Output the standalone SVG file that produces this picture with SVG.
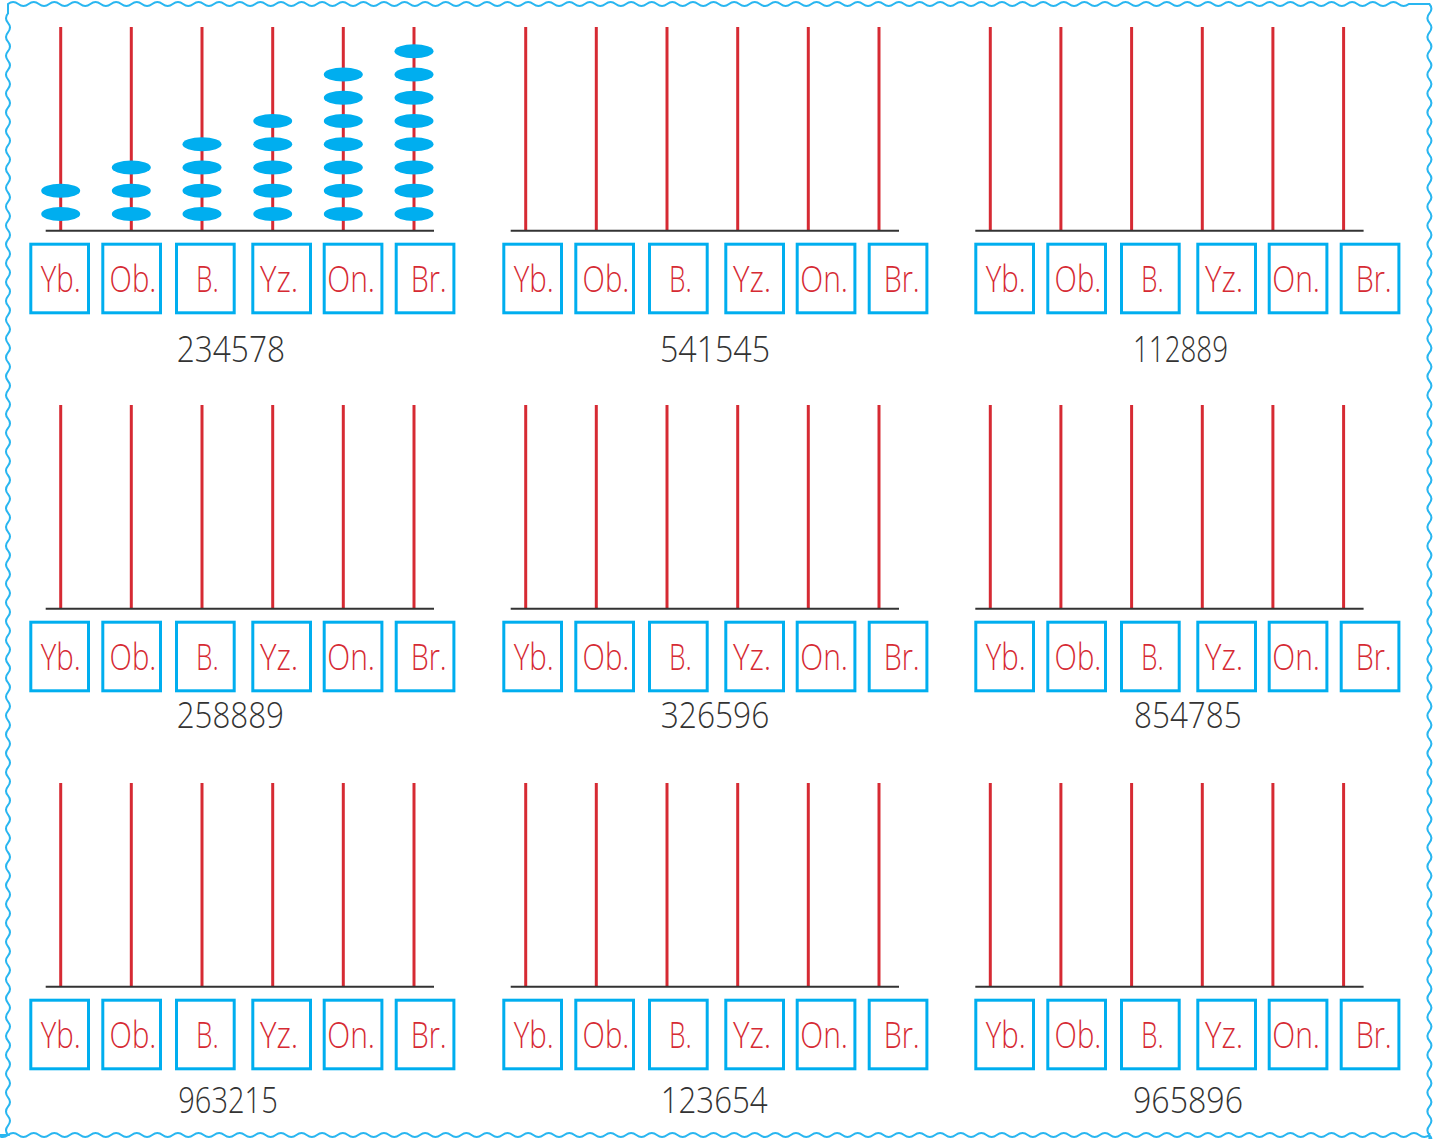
<svg xmlns="http://www.w3.org/2000/svg" width="1448" height="1139" viewBox="0 0 1448 1139">
<defs>
<style>
.rod{stroke:#d62a33;stroke-width:3}
.base{stroke:#333;stroke-width:2}
.box{fill:none;stroke:#00aeef;stroke-width:3}
.bead{fill:#00aeef}
.lbl{font-family:"Open Sans","Liberation Sans",sans-serif;font-weight:300;font-size:36px;fill:#d62a33}
.num{font-family:"Open Sans","Liberation Sans",sans-serif;font-weight:300;font-size:36px;fill:#333}
.border{fill:none;stroke:#29b6f0;stroke-width:2}
</style>
<g id="rods">
<line class="rod" x1="60.7" y1="27" x2="60.7" y2="231"/>
<line class="rod" x1="131.3" y1="27" x2="131.3" y2="231"/>
<line class="rod" x1="202" y1="27" x2="202" y2="231"/>
<line class="rod" x1="272.7" y1="27" x2="272.7" y2="231"/>
<line class="rod" x1="343.3" y1="27" x2="343.3" y2="231"/>
<line class="rod" x1="414" y1="27" x2="414" y2="231"/>
<line class="base" x1="45.7" y1="230.7" x2="434" y2="230.7"/>
</g>
</defs>
<path class="border" d="M8 4q5.15 -4 10.3 0t10.3 0t10.3 0t10.3 0t10.3 0t10.3 0t10.3 0t10.3 0t10.3 0t10.3 0t10.3 0t10.3 0t10.3 0t10.3 0t10.3 0t10.3 0t10.3 0t10.3 0t10.3 0t10.3 0t10.3 0t10.3 0t10.3 0t10.3 0t10.3 0t10.3 0t10.3 0t10.3 0t10.3 0t10.3 0t10.3 0t10.3 0t10.3 0t10.3 0t10.3 0t10.3 0t10.3 0t10.3 0t10.3 0t10.3 0t10.3 0t10.3 0t10.3 0t10.3 0t10.3 0t10.3 0t10.3 0t10.3 0t10.3 0t10.3 0t10.3 0t10.3 0t10.3 0t10.3 0t10.3 0t10.3 0t10.3 0t10.3 0t10.3 0t10.3 0t10.3 0t10.3 0t10.3 0t10.3 0t10.3 0t10.3 0t10.3 0t10.3 0t10.3 0t10.3 0t10.3 0t10.3 0t10.3 0t10.3 0t10.3 0t10.3 0t10.3 0t10.3 0t10.3 0t10.3 0t10.3 0t10.3 0t10.3 0t10.3 0t10.3 0t10.3 0t10.3 0t10.3 0t10.3 0t10.3 0t10.3 0t10.3 0t10.3 0t10.3 0t10.3 0t10.3 0t10.3 0t10.3 0t10.3 0t10.3 0t10.3 0t10.3 0t10.3 0t10.3 0t10.3 0t10.3 0t10.3 0t10.3 0t10.3 0t10.3 0t10.3 0t10.3 0t10.3 0t10.3 0t10.3 0t10.3 0t10.3 0t10.3 0t10.3 0t10.3 0t10.3 0t10.3 0t10.3 0t10.3 0t10.3 0t10.3 0t10.3 0t10.3 0t10.3 0t10.3 0t10.3 0t10.3 0t10.3 0t10.3 0t10.3 0t10.3 0
L1429.4 4q4 4.7125 0 9.425t0 9.425t0 9.425t0 9.425t0 9.425t0 9.425t0 9.425t0 9.425t0 9.425t0 9.425t0 9.425t0 9.425t0 9.425t0 9.425t0 9.425t0 9.425t0 9.425t0 9.425t0 9.425t0 9.425t0 9.425t0 9.425t0 9.425t0 9.425t0 9.425t0 9.425t0 9.425t0 9.425t0 9.425t0 9.425t0 9.425t0 9.425t0 9.425t0 9.425t0 9.425t0 9.425t0 9.425t0 9.425t0 9.425t0 9.425t0 9.425t0 9.425t0 9.425t0 9.425t0 9.425t0 9.425t0 9.425t0 9.425t0 9.425t0 9.425t0 9.425t0 9.425t0 9.425t0 9.425t0 9.425t0 9.425t0 9.425t0 9.425t0 9.425t0 9.425t0 9.425t0 9.425t0 9.425t0 9.425t0 9.425t0 9.425t0 9.425t0 9.425t0 9.425t0 9.425t0 9.425t0 9.425t0 9.425t0 9.425t0 9.425t0 9.425t0 9.425t0 9.425t0 9.425t0 9.425t0 9.425t0 9.425t0 9.425t0 9.425t0 9.425t0 9.425t0 9.425t0 9.425t0 9.425t0 9.425t0 9.425t0 9.425t0 9.425t0 9.425t0 9.425t0 9.425t0 9.425t0 9.425t0 9.425t0 9.425t0 9.425t0 9.425t0 9.425t0 9.425t0 9.425t0 9.425t0 9.425t0 9.425t0 9.425t0 9.425t0 9.425t0 9.425t0 9.425t0 9.425t0 9.425t0 9.425t0 9.425t0 9.425t0 9.425t0 9.425t0 9.425t0 9.425t0 9.425t0 9.425t0 9.425
L1429.4 1135q-5.15 4 -10.3 0t-10.3 0t-10.3 0t-10.3 0t-10.3 0t-10.3 0t-10.3 0t-10.3 0t-10.3 0t-10.3 0t-10.3 0t-10.3 0t-10.3 0t-10.3 0t-10.3 0t-10.3 0t-10.3 0t-10.3 0t-10.3 0t-10.3 0t-10.3 0t-10.3 0t-10.3 0t-10.3 0t-10.3 0t-10.3 0t-10.3 0t-10.3 0t-10.3 0t-10.3 0t-10.3 0t-10.3 0t-10.3 0t-10.3 0t-10.3 0t-10.3 0t-10.3 0t-10.3 0t-10.3 0t-10.3 0t-10.3 0t-10.3 0t-10.3 0t-10.3 0t-10.3 0t-10.3 0t-10.3 0t-10.3 0t-10.3 0t-10.3 0t-10.3 0t-10.3 0t-10.3 0t-10.3 0t-10.3 0t-10.3 0t-10.3 0t-10.3 0t-10.3 0t-10.3 0t-10.3 0t-10.3 0t-10.3 0t-10.3 0t-10.3 0t-10.3 0t-10.3 0t-10.3 0t-10.3 0t-10.3 0t-10.3 0t-10.3 0t-10.3 0t-10.3 0t-10.3 0t-10.3 0t-10.3 0t-10.3 0t-10.3 0t-10.3 0t-10.3 0t-10.3 0t-10.3 0t-10.3 0t-10.3 0t-10.3 0t-10.3 0t-10.3 0t-10.3 0t-10.3 0t-10.3 0t-10.3 0t-10.3 0t-10.3 0t-10.3 0t-10.3 0t-10.3 0t-10.3 0t-10.3 0t-10.3 0t-10.3 0t-10.3 0t-10.3 0t-10.3 0t-10.3 0t-10.3 0t-10.3 0t-10.3 0t-10.3 0t-10.3 0t-10.3 0t-10.3 0t-10.3 0t-10.3 0t-10.3 0t-10.3 0t-10.3 0t-10.3 0t-10.3 0t-10.3 0t-10.3 0t-10.3 0t-10.3 0t-10.3 0t-10.3 0t-10.3 0t-10.3 0t-10.3 0t-10.3 0t-10.3 0t-10.3 0t-10.3 0t-10.3 0t-10.3 0t-10.3 0t-10.3 0t-10.3 0t-10.3 0t-10.3 0t-10.3 0t-10.3 0
L8 1135q-4 -4.7125 0 -9.425t0 -9.425t0 -9.425t0 -9.425t0 -9.425t0 -9.425t0 -9.425t0 -9.425t0 -9.425t0 -9.425t0 -9.425t0 -9.425t0 -9.425t0 -9.425t0 -9.425t0 -9.425t0 -9.425t0 -9.425t0 -9.425t0 -9.425t0 -9.425t0 -9.425t0 -9.425t0 -9.425t0 -9.425t0 -9.425t0 -9.425t0 -9.425t0 -9.425t0 -9.425t0 -9.425t0 -9.425t0 -9.425t0 -9.425t0 -9.425t0 -9.425t0 -9.425t0 -9.425t0 -9.425t0 -9.425t0 -9.425t0 -9.425t0 -9.425t0 -9.425t0 -9.425t0 -9.425t0 -9.425t0 -9.425t0 -9.425t0 -9.425t0 -9.425t0 -9.425t0 -9.425t0 -9.425t0 -9.425t0 -9.425t0 -9.425t0 -9.425t0 -9.425t0 -9.425t0 -9.425t0 -9.425t0 -9.425t0 -9.425t0 -9.425t0 -9.425t0 -9.425t0 -9.425t0 -9.425t0 -9.425t0 -9.425t0 -9.425t0 -9.425t0 -9.425t0 -9.425t0 -9.425t0 -9.425t0 -9.425t0 -9.425t0 -9.425t0 -9.425t0 -9.425t0 -9.425t0 -9.425t0 -9.425t0 -9.425t0 -9.425t0 -9.425t0 -9.425t0 -9.425t0 -9.425t0 -9.425t0 -9.425t0 -9.425t0 -9.425t0 -9.425t0 -9.425t0 -9.425t0 -9.425t0 -9.425t0 -9.425t0 -9.425t0 -9.425t0 -9.425t0 -9.425t0 -9.425t0 -9.425t0 -9.425t0 -9.425t0 -9.425t0 -9.425t0 -9.425t0 -9.425t0 -9.425t0 -9.425t0 -9.425t0 -9.425t0 -9.425t0 -9.425Z"/>

<g id="abacus-1" transform="translate(0,0)">
<use href="#rods"/>
<g class="beads">
<ellipse class="bead" cx="60.7" cy="214" rx="19.5" ry="7"/>
<ellipse class="bead" cx="60.7" cy="190.75" rx="19.5" ry="7"/>
<ellipse class="bead" cx="131.3" cy="214" rx="19.5" ry="7"/>
<ellipse class="bead" cx="131.3" cy="190.75" rx="19.5" ry="7"/>
<ellipse class="bead" cx="131.3" cy="167.5" rx="19.5" ry="7"/>
<ellipse class="bead" cx="202" cy="214" rx="19.5" ry="7"/>
<ellipse class="bead" cx="202" cy="190.75" rx="19.5" ry="7"/>
<ellipse class="bead" cx="202" cy="167.5" rx="19.5" ry="7"/>
<ellipse class="bead" cx="202" cy="144.25" rx="19.5" ry="7"/>
<ellipse class="bead" cx="272.7" cy="214" rx="19.5" ry="7"/>
<ellipse class="bead" cx="272.7" cy="190.75" rx="19.5" ry="7"/>
<ellipse class="bead" cx="272.7" cy="167.5" rx="19.5" ry="7"/>
<ellipse class="bead" cx="272.7" cy="144.25" rx="19.5" ry="7"/>
<ellipse class="bead" cx="272.7" cy="121" rx="19.5" ry="7"/>
<ellipse class="bead" cx="343.3" cy="214" rx="19.5" ry="7"/>
<ellipse class="bead" cx="343.3" cy="190.75" rx="19.5" ry="7"/>
<ellipse class="bead" cx="343.3" cy="167.5" rx="19.5" ry="7"/>
<ellipse class="bead" cx="343.3" cy="144.25" rx="19.5" ry="7"/>
<ellipse class="bead" cx="343.3" cy="121" rx="19.5" ry="7"/>
<ellipse class="bead" cx="343.3" cy="97.75" rx="19.5" ry="7"/>
<ellipse class="bead" cx="343.3" cy="74.5" rx="19.5" ry="7"/>
<ellipse class="bead" cx="414" cy="214" rx="19.5" ry="7"/>
<ellipse class="bead" cx="414" cy="190.75" rx="19.5" ry="7"/>
<ellipse class="bead" cx="414" cy="167.5" rx="19.5" ry="7"/>
<ellipse class="bead" cx="414" cy="144.25" rx="19.5" ry="7"/>
<ellipse class="bead" cx="414" cy="121" rx="19.5" ry="7"/>
<ellipse class="bead" cx="414" cy="97.75" rx="19.5" ry="7"/>
<ellipse class="bead" cx="414" cy="74.5" rx="19.5" ry="7"/>
<ellipse class="bead" cx="414" cy="51.25" rx="19.5" ry="7"/>
</g>
<g transform="translate(0,0)">
<rect class="box" x="30.8" y="244.2" width="57.7" height="68.6"/>
<rect class="box" x="102.8" y="244.2" width="57.7" height="68.6"/>
<rect class="box" x="176.5" y="244.2" width="57.7" height="68.6"/>
<rect class="box" x="252.8" y="244.2" width="57.7" height="68.6"/>
<rect class="box" x="324.2" y="244.2" width="57.7" height="68.6"/>
<rect class="box" x="396.2" y="244.2" width="57.7" height="68.6"/>
<text class="lbl" x="40.7" y="291.7" textLength="40" lengthAdjust="spacingAndGlyphs">Yb.</text>
<text class="lbl" x="109.6" y="291.7" textLength="46.7" lengthAdjust="spacingAndGlyphs">Ob.</text>
<text class="lbl" x="196" y="291.7" textLength="22.7" lengthAdjust="spacingAndGlyphs">B.</text>
<text class="lbl" x="260" y="291.7" textLength="38.3" lengthAdjust="spacingAndGlyphs">Yz.</text>
<text class="lbl" x="327.3" y="291.7" textLength="47.7" lengthAdjust="spacingAndGlyphs">On.</text>
<text class="lbl" x="410.7" y="291.7" textLength="36" lengthAdjust="spacingAndGlyphs">Br.</text>
</g>
<text class="num" x="176.7" y="361.7" textLength="108.3" lengthAdjust="spacingAndGlyphs">234578</text>
</g>

<g id="abacus-2" transform="translate(465,0)">
<use href="#rods"/>
<g transform="translate(8,0)">
<rect class="box" x="30.8" y="244.2" width="57.7" height="68.6"/>
<rect class="box" x="102.8" y="244.2" width="57.7" height="68.6"/>
<rect class="box" x="176.5" y="244.2" width="57.7" height="68.6"/>
<rect class="box" x="252.8" y="244.2" width="57.7" height="68.6"/>
<rect class="box" x="324.2" y="244.2" width="57.7" height="68.6"/>
<rect class="box" x="396.2" y="244.2" width="57.7" height="68.6"/>
<text class="lbl" x="40.7" y="291.7" textLength="40" lengthAdjust="spacingAndGlyphs">Yb.</text>
<text class="lbl" x="109.6" y="291.7" textLength="46.7" lengthAdjust="spacingAndGlyphs">Ob.</text>
<text class="lbl" x="196" y="291.7" textLength="22.7" lengthAdjust="spacingAndGlyphs">B.</text>
<text class="lbl" x="260" y="291.7" textLength="38.3" lengthAdjust="spacingAndGlyphs">Yz.</text>
<text class="lbl" x="327.3" y="291.7" textLength="47.7" lengthAdjust="spacingAndGlyphs">On.</text>
<text class="lbl" x="410.7" y="291.7" textLength="36" lengthAdjust="spacingAndGlyphs">Br.</text>
</g>
<text class="num" x="195" y="361.7" textLength="110" lengthAdjust="spacingAndGlyphs">541545</text>
</g>

<g id="abacus-3" transform="translate(929.6,0)">
<use href="#rods"/>
<g transform="translate(15.4,0)">
<rect class="box" x="30.8" y="244.2" width="57.7" height="68.6"/>
<rect class="box" x="102.8" y="244.2" width="57.7" height="68.6"/>
<rect class="box" x="176.5" y="244.2" width="57.7" height="68.6"/>
<rect class="box" x="252.8" y="244.2" width="57.7" height="68.6"/>
<rect class="box" x="324.2" y="244.2" width="57.7" height="68.6"/>
<rect class="box" x="396.2" y="244.2" width="57.7" height="68.6"/>
<text class="lbl" x="40.7" y="291.7" textLength="40" lengthAdjust="spacingAndGlyphs">Yb.</text>
<text class="lbl" x="109.6" y="291.7" textLength="46.7" lengthAdjust="spacingAndGlyphs">Ob.</text>
<text class="lbl" x="196" y="291.7" textLength="22.7" lengthAdjust="spacingAndGlyphs">B.</text>
<text class="lbl" x="260" y="291.7" textLength="38.3" lengthAdjust="spacingAndGlyphs">Yz.</text>
<text class="lbl" x="327.3" y="291.7" textLength="47.7" lengthAdjust="spacingAndGlyphs">On.</text>
<text class="lbl" x="410.7" y="291.7" textLength="36" lengthAdjust="spacingAndGlyphs">Br.</text>
</g>
<text class="num" x="203.4" y="361.7" textLength="95" lengthAdjust="spacingAndGlyphs">112889</text>
</g>

<g id="abacus-4" transform="translate(0,378)">
<use href="#rods"/>
<g transform="translate(0,0)">
<rect class="box" x="30.8" y="244.2" width="57.7" height="68.6"/>
<rect class="box" x="102.8" y="244.2" width="57.7" height="68.6"/>
<rect class="box" x="176.5" y="244.2" width="57.7" height="68.6"/>
<rect class="box" x="252.8" y="244.2" width="57.7" height="68.6"/>
<rect class="box" x="324.2" y="244.2" width="57.7" height="68.6"/>
<rect class="box" x="396.2" y="244.2" width="57.7" height="68.6"/>
<text class="lbl" x="40.7" y="291.7" textLength="40" lengthAdjust="spacingAndGlyphs">Yb.</text>
<text class="lbl" x="109.6" y="291.7" textLength="46.7" lengthAdjust="spacingAndGlyphs">Ob.</text>
<text class="lbl" x="196" y="291.7" textLength="22.7" lengthAdjust="spacingAndGlyphs">B.</text>
<text class="lbl" x="260" y="291.7" textLength="38.3" lengthAdjust="spacingAndGlyphs">Yz.</text>
<text class="lbl" x="327.3" y="291.7" textLength="47.7" lengthAdjust="spacingAndGlyphs">On.</text>
<text class="lbl" x="410.7" y="291.7" textLength="36" lengthAdjust="spacingAndGlyphs">Br.</text>
</g>
<text class="num" x="176.7" y="350.3" textLength="107.3" lengthAdjust="spacingAndGlyphs">258889</text>
</g>

<g id="abacus-5" transform="translate(465,378)">
<use href="#rods"/>
<g transform="translate(8,0)">
<rect class="box" x="30.8" y="244.2" width="57.7" height="68.6"/>
<rect class="box" x="102.8" y="244.2" width="57.7" height="68.6"/>
<rect class="box" x="176.5" y="244.2" width="57.7" height="68.6"/>
<rect class="box" x="252.8" y="244.2" width="57.7" height="68.6"/>
<rect class="box" x="324.2" y="244.2" width="57.7" height="68.6"/>
<rect class="box" x="396.2" y="244.2" width="57.7" height="68.6"/>
<text class="lbl" x="40.7" y="291.7" textLength="40" lengthAdjust="spacingAndGlyphs">Yb.</text>
<text class="lbl" x="109.6" y="291.7" textLength="46.7" lengthAdjust="spacingAndGlyphs">Ob.</text>
<text class="lbl" x="196" y="291.7" textLength="22.7" lengthAdjust="spacingAndGlyphs">B.</text>
<text class="lbl" x="260" y="291.7" textLength="38.3" lengthAdjust="spacingAndGlyphs">Yz.</text>
<text class="lbl" x="327.3" y="291.7" textLength="47.7" lengthAdjust="spacingAndGlyphs">On.</text>
<text class="lbl" x="410.7" y="291.7" textLength="36" lengthAdjust="spacingAndGlyphs">Br.</text>
</g>
<text class="num" x="195.7" y="350.3" textLength="108.6" lengthAdjust="spacingAndGlyphs">326596</text>
</g>

<g id="abacus-6" transform="translate(929.6,378)">
<use href="#rods"/>
<g transform="translate(15.4,0)">
<rect class="box" x="30.8" y="244.2" width="57.7" height="68.6"/>
<rect class="box" x="102.8" y="244.2" width="57.7" height="68.6"/>
<rect class="box" x="176.5" y="244.2" width="57.7" height="68.6"/>
<rect class="box" x="252.8" y="244.2" width="57.7" height="68.6"/>
<rect class="box" x="324.2" y="244.2" width="57.7" height="68.6"/>
<rect class="box" x="396.2" y="244.2" width="57.7" height="68.6"/>
<text class="lbl" x="40.7" y="291.7" textLength="40" lengthAdjust="spacingAndGlyphs">Yb.</text>
<text class="lbl" x="109.6" y="291.7" textLength="46.7" lengthAdjust="spacingAndGlyphs">Ob.</text>
<text class="lbl" x="196" y="291.7" textLength="22.7" lengthAdjust="spacingAndGlyphs">B.</text>
<text class="lbl" x="260" y="291.7" textLength="38.3" lengthAdjust="spacingAndGlyphs">Yz.</text>
<text class="lbl" x="327.3" y="291.7" textLength="47.7" lengthAdjust="spacingAndGlyphs">On.</text>
<text class="lbl" x="410.7" y="291.7" textLength="36" lengthAdjust="spacingAndGlyphs">Br.</text>
</g>
<text class="num" x="204.4" y="350.3" textLength="107.7" lengthAdjust="spacingAndGlyphs">854785</text>
</g>

<g id="abacus-7" transform="translate(0,756)">
<use href="#rods"/>
<g transform="translate(0,0)">
<rect class="box" x="30.8" y="244.2" width="57.7" height="68.6"/>
<rect class="box" x="102.8" y="244.2" width="57.7" height="68.6"/>
<rect class="box" x="176.5" y="244.2" width="57.7" height="68.6"/>
<rect class="box" x="252.8" y="244.2" width="57.7" height="68.6"/>
<rect class="box" x="324.2" y="244.2" width="57.7" height="68.6"/>
<rect class="box" x="396.2" y="244.2" width="57.7" height="68.6"/>
<text class="lbl" x="40.7" y="291.7" textLength="40" lengthAdjust="spacingAndGlyphs">Yb.</text>
<text class="lbl" x="109.6" y="291.7" textLength="46.7" lengthAdjust="spacingAndGlyphs">Ob.</text>
<text class="lbl" x="196" y="291.7" textLength="22.7" lengthAdjust="spacingAndGlyphs">B.</text>
<text class="lbl" x="260" y="291.7" textLength="38.3" lengthAdjust="spacingAndGlyphs">Yz.</text>
<text class="lbl" x="327.3" y="291.7" textLength="47.7" lengthAdjust="spacingAndGlyphs">On.</text>
<text class="lbl" x="410.7" y="291.7" textLength="36" lengthAdjust="spacingAndGlyphs">Br.</text>
</g>
<text class="num" x="178.3" y="357.3" textLength="99.4" lengthAdjust="spacingAndGlyphs">963215</text>
</g>

<g id="abacus-8" transform="translate(465,756)">
<use href="#rods"/>
<g transform="translate(8,0)">
<rect class="box" x="30.8" y="244.2" width="57.7" height="68.6"/>
<rect class="box" x="102.8" y="244.2" width="57.7" height="68.6"/>
<rect class="box" x="176.5" y="244.2" width="57.7" height="68.6"/>
<rect class="box" x="252.8" y="244.2" width="57.7" height="68.6"/>
<rect class="box" x="324.2" y="244.2" width="57.7" height="68.6"/>
<rect class="box" x="396.2" y="244.2" width="57.7" height="68.6"/>
<text class="lbl" x="40.7" y="291.7" textLength="40" lengthAdjust="spacingAndGlyphs">Yb.</text>
<text class="lbl" x="109.6" y="291.7" textLength="46.7" lengthAdjust="spacingAndGlyphs">Ob.</text>
<text class="lbl" x="196" y="291.7" textLength="22.7" lengthAdjust="spacingAndGlyphs">B.</text>
<text class="lbl" x="260" y="291.7" textLength="38.3" lengthAdjust="spacingAndGlyphs">Yz.</text>
<text class="lbl" x="327.3" y="291.7" textLength="47.7" lengthAdjust="spacingAndGlyphs">On.</text>
<text class="lbl" x="410.7" y="291.7" textLength="36" lengthAdjust="spacingAndGlyphs">Br.</text>
</g>
<text class="num" x="195.7" y="357.3" textLength="107" lengthAdjust="spacingAndGlyphs">123654</text>
</g>

<g id="abacus-9" transform="translate(929.6,756)">
<use href="#rods"/>
<g transform="translate(15.4,0)">
<rect class="box" x="30.8" y="244.2" width="57.7" height="68.6"/>
<rect class="box" x="102.8" y="244.2" width="57.7" height="68.6"/>
<rect class="box" x="176.5" y="244.2" width="57.7" height="68.6"/>
<rect class="box" x="252.8" y="244.2" width="57.7" height="68.6"/>
<rect class="box" x="324.2" y="244.2" width="57.7" height="68.6"/>
<rect class="box" x="396.2" y="244.2" width="57.7" height="68.6"/>
<text class="lbl" x="40.7" y="291.7" textLength="40" lengthAdjust="spacingAndGlyphs">Yb.</text>
<text class="lbl" x="109.6" y="291.7" textLength="46.7" lengthAdjust="spacingAndGlyphs">Ob.</text>
<text class="lbl" x="196" y="291.7" textLength="22.7" lengthAdjust="spacingAndGlyphs">B.</text>
<text class="lbl" x="260" y="291.7" textLength="38.3" lengthAdjust="spacingAndGlyphs">Yz.</text>
<text class="lbl" x="327.3" y="291.7" textLength="47.7" lengthAdjust="spacingAndGlyphs">On.</text>
<text class="lbl" x="410.7" y="291.7" textLength="36" lengthAdjust="spacingAndGlyphs">Br.</text>
</g>
<text class="num" x="203.4" y="357.3" textLength="110" lengthAdjust="spacingAndGlyphs">965896</text>
</g>
</svg>
